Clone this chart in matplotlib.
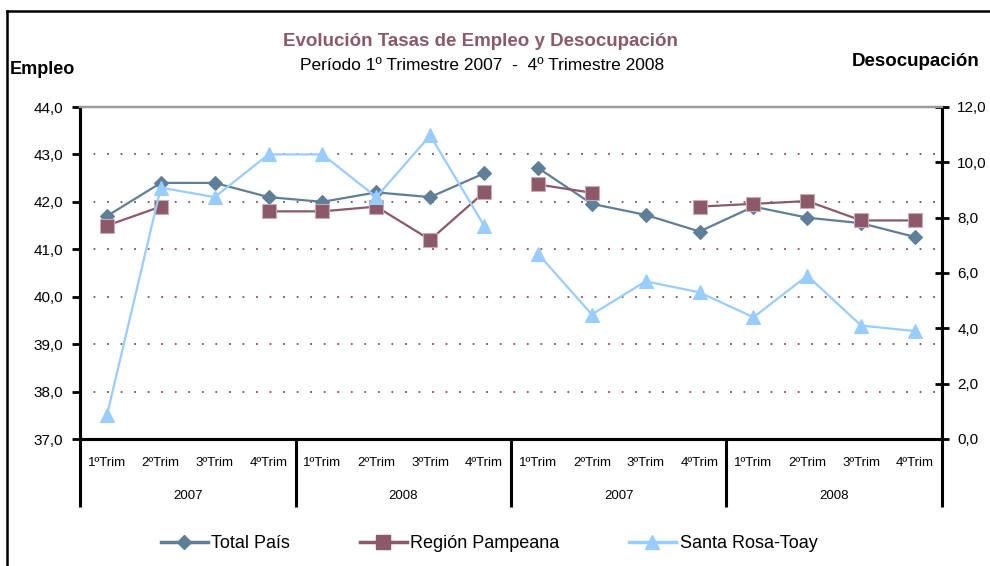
import numpy as np
import matplotlib.pyplot as plt
from matplotlib.lines import Line2D
from matplotlib.transforms import blended_transform_factory

plt.rcParams["font.family"] = ["Liberation Sans", "DejaVu Sans"]

# Data
trims = ["1ºTrim", "2ºTrim", "3ºTrim", "4ºTrim"] * 4
years = ["2007", "2008", "2007", "2008"]
series_names = ["Total País", "Región Pampeana", "Santa Rosa-Toay"]

empleo_total = [41.7, 42.4, 42.4, 42.1, 42.0, 42.2, 42.1, 42.6]
empleo_pampeana = [41.5, 41.9, np.nan, 41.8, 41.8, 41.9, 41.2, 42.2]
empleo_santarosa = [37.5, 42.3, 42.1, 43.0, 43.0, 42.1, 43.4, 41.5]

desoc_total = [9.8, 8.5, 8.1, 7.5, 8.4, 8.0, 7.8, 7.3]
desoc_pampeana = [9.2, 8.9, np.nan, 8.4, 8.5, 8.6, 7.9, 7.9]
desoc_santarosa = [6.7, 4.5, 5.7, 5.3, 4.4, 5.9, 4.1, 3.9]

colors = ["#5f7f99", "#8c5968", "#99ccff"]
markers = ["D", "s", "^"]
msizes = [7, 9.5, 10]

W, H = 990, 566
fig = plt.figure(figsize=(W / 100, H / 100), dpi=100)
ax = fig.add_axes([80 / W, 1 - 439 / H, (942 - 80) / W, (439 - 107) / H])
ax2 = ax.twinx()

x_emp = np.arange(8) + 0.5
x_des = np.arange(8, 16) + 0.5

emp = [empleo_total, empleo_pampeana, empleo_santarosa]
des = [desoc_total, desoc_pampeana, desoc_santarosa]
for i in range(3):
    kw = dict(color=colors[i], marker=markers[i], markersize=msizes[i], lw=1.6,
              markeredgecolor=colors[i] if i != 1 else "#c9a9b2", markeredgewidth=0.8)
    ax.plot(x_emp, emp[i], **kw)
    ax2.plot(x_des, des[i], **kw)

ax.set_xlim(0, 16)
ax.set_ylim(37, 44)
ax2.set_ylim(0, 12)
ax.set_yticks(np.arange(37, 44.1, 1))
ax.set_yticklabels([f"{v:.1f}".replace(".", ",") for v in np.arange(37, 44.1, 1)], fontsize=11)
ax2.set_yticks(np.arange(0, 12.1, 2))
ax2.set_yticklabels([f"{v:.1f}".replace(".", ",") for v in np.arange(0, 12.1, 2)], fontsize=11)

# dotted grid on left scale
for v in range(38, 44):
    ax.axhline(v, color="#8c4a5c", lw=1.3, linestyle=(0, (1, 6.5)), zorder=0)

ax.set_xticks([])
for a in (ax, ax2):
    a.spines["top"].set_color("#9a9a9a")
    a.spines["top"].set_linewidth(1.6)
    a.spines["left"].set_linewidth(2.2)
    a.spines["right"].set_linewidth(2.2)
    a.spines["bottom"].set_linewidth(2.2)
ax.tick_params(axis="y", direction="out", length=6, width=2, pad=6)
ax2.tick_params(axis="y", direction="inout", length=10, width=2, pad=6)

# category axis
tr = blended_transform_factory(ax.transData, ax.transAxes)
sep_bottom = -(507 - 439) / 332
ax.vlines([0, 4, 8, 12, 16], sep_bottom, 0, transform=tr, color="black", lw=2.2, clip_on=False)
for i, t in enumerate(trims):
    ax.text(i + 0.5, -(463 - 439) / 332, t, transform=tr, ha="center", va="center", fontsize=9.5)
for j, y in enumerate(years):
    ax.text(j * 4 + 2, -(496 - 439) / 332, y, transform=tr, ha="center", va="center", fontsize=9.5)

# titles
fig.text(480 / W, 1 - 41 / H, "Evolución Tasas de Empleo y Desocupación", ha="center", va="center",
         fontsize=13.5, fontweight="bold", color="#8c5968")
fig.text(482 / W, 1 - 65 / H, "Período 1º Trimestre 2007  -  4º Trimestre 2008", ha="center",
         va="center", fontsize=12.5)
fig.text(10 / W, 1 - 70 / H, "Empleo", ha="left", va="center", fontsize=13, fontweight="bold")
fig.text(852 / W, 1 - 62 / H, "Desocupación", ha="left", va="center", fontsize=13.5, fontweight="bold")

# outer border
fig.add_artist(Line2D([7 / W, 7 / W], [0, 1 - 11 / H], color="black", lw=1.8))
fig.add_artist(Line2D([7 / W, 1], [1 - 11 / H, 1 - 11 / H], color="black", lw=1.8))

# legend
handles = [Line2D([], [], color=colors[i], marker=markers[i], markersize=msizes[i], lw=2.5,
                  markeredgecolor=colors[i]) for i in range(3)]
fig.legend(handles, series_names, loc="center", bbox_to_anchor=(489 / W, 1 - 544 / H), ncol=3,
           frameon=False, fontsize=13, handlelength=2.6, columnspacing=3.85, handletextpad=0.2)

fig.savefig("out.png", dpi=100)
